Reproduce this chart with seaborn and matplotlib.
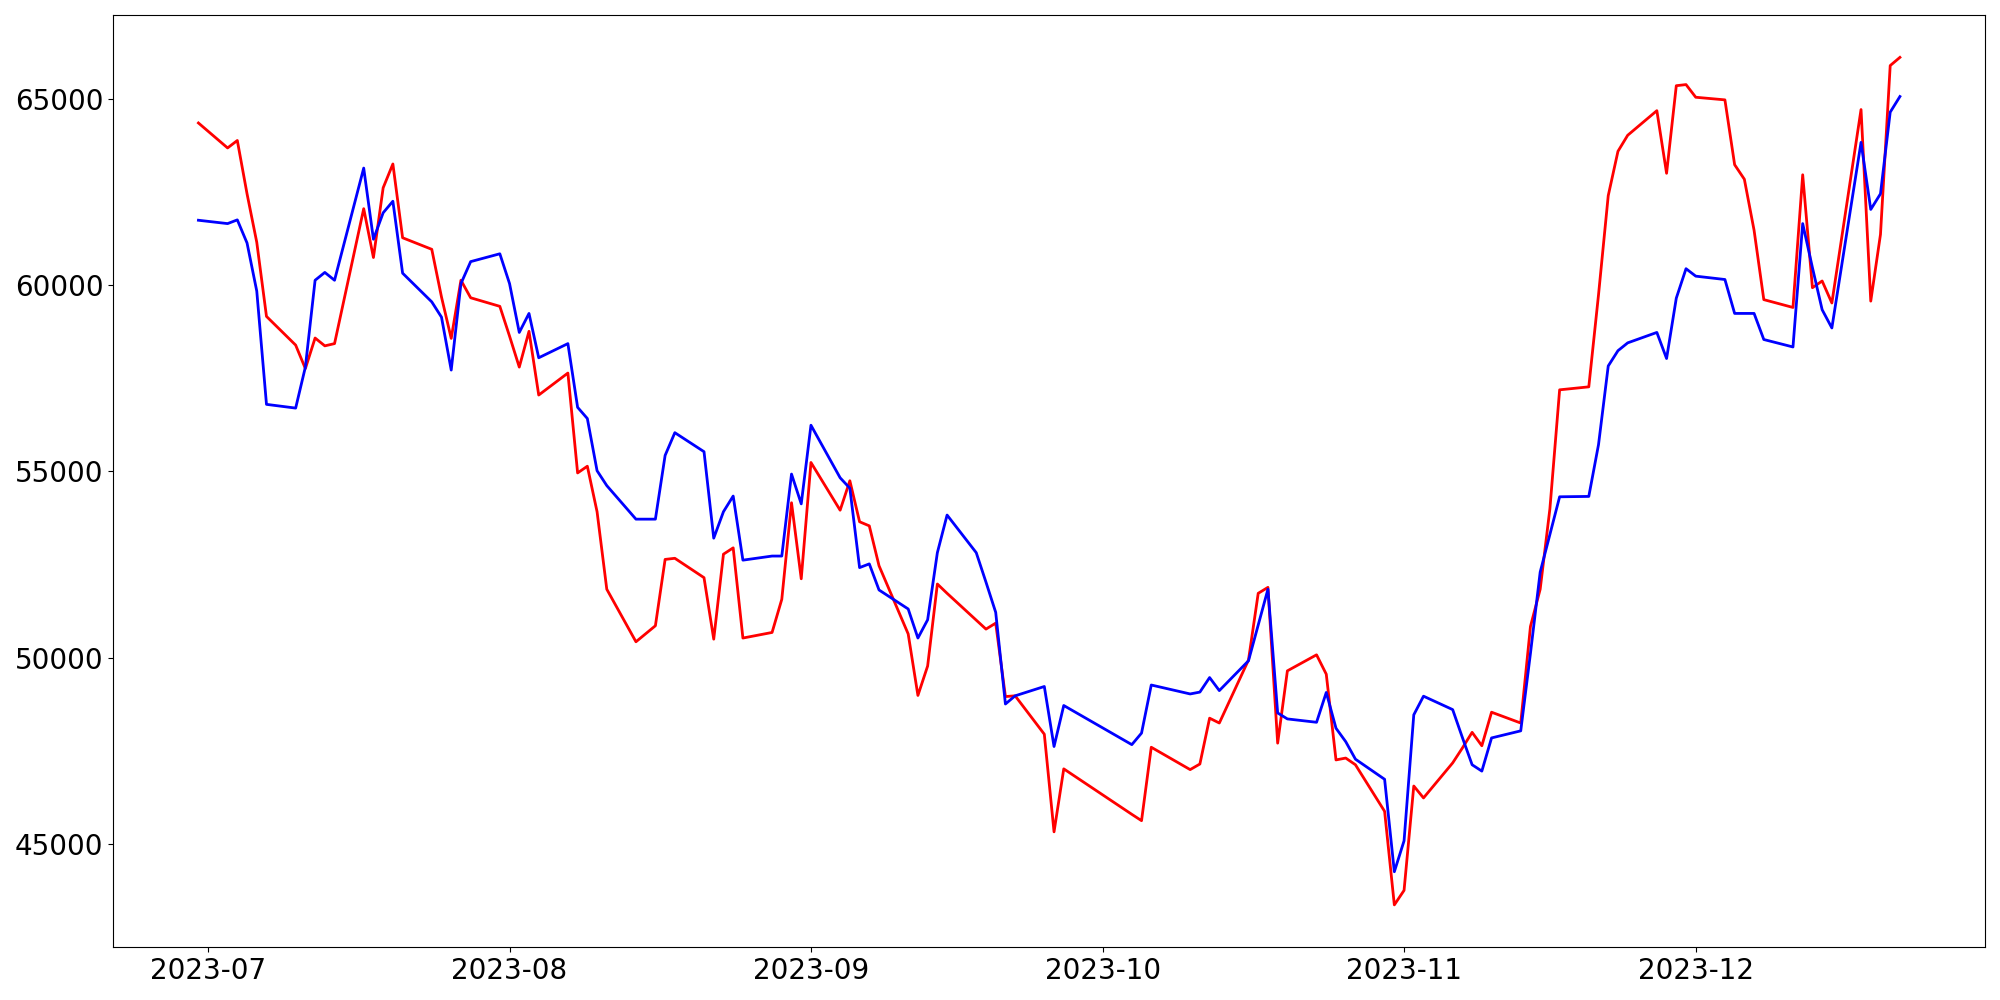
import pandas as pd
import matplotlib
matplotlib.use("Agg")
import matplotlib.pyplot as plt
import seaborn as sns

# trading days (KRX calendar, holidays removed)
holidays = ['2023-08-15', '2023-09-28', '2023-09-29', '2023-10-02', '2023-10-03', '2023-10-09']
dates = pd.bdate_range('2023-06-30', '2023-12-22', freq='C', holidays=holidays)

# red series, grouped by month
red_values = [
    64350,
    63680, 63880, 62450, 61150, 59160, 58390, 57760, 58580, 58370, 58430,
    62050, 60740, 62610, 63250, 61270, 60960, 59680, 58570, 60130, 59660, 59430,
    # aug
    58630, 57800, 58760, 57050, 57640, 54960, 55140, 53920, 51840, 50430,
    50860, 52640, 52670, 52150, 50500, 52780, 52950, 50530, 50680, 51570, 54160, 52120,
    # sep
    55240, 53960, 54750, 53650, 53540, 52470, 50640, 48990, 49780, 51980,
    51730, 51010, 50770, 50930, 48960, 48980, 47950, 45330, 47020,
    # oct
    45800, 45630, 47600, 47000, 47150, 48380, 48250, 49940, 51730, 51890,
    47710, 49650, 50080, 49560, 47260, 47310, 47130, 45880, 43370,
    # nov
    43760, 46560, 46240, 47180, 47580, 48000, 47640, 48540, 48250, 50840, 51840,
    54000, 57190, 57270, 59740, 62400, 63590, 64020, 64680, 63000, 65350, 65380,
    # dec
    65040, 64970, 63230, 62840, 61470, 59610, 59400, 62960, 59930, 60110, 59520,
    64710, 59570, 61360, 65890, 66110,
]

# blue series
blue_values = [
    61740,
    61650, 61750, 61130, 59840, 56800, 56700, 57800, 60130, 60340, 60130,
    63140, 61230, 61940, 62250, 60320, 59550, 59140, 57720, 60040, 60630, 60840,
    # aug
    60040, 58730, 59240, 58050, 58430, 56720, 56420, 55020, 54620, 53720,
    53720, 55430, 56040, 55530, 53210, 53920, 54340, 52620, 52730, 52730, 54930, 54130,
    # sep
    56240, 54830, 54550, 52420, 52520, 51820, 51310, 50530, 51020, 52820,
    53830, 52820, 52030, 51220, 48760, 48980, 49230, 47620, 48720,
    # oct
    47670, 47980, 49270, 49030, 49080, 49470, 49120, 49920, 50880, 51840,
    48520, 48360, 48270, 49070, 48110, 47750, 47280, 46740, 44260,
    # nov
    45090, 48470, 48970, 48610, 47860, 47130, 46960, 47850, 48040, 50120, 52300,
    53310, 54320, 54330, 55720, 57830, 58240, 58450, 58730, 58030, 59650, 60440,
    # dec
    60240, 60150, 59240, 59240, 59240, 58540, 58340, 61650, 60470, 59340, 58850,
    63830, 62030, 62450, 64640, 65060,
]

df = pd.DataFrame({'date': dates, 'red': red_values, 'blue': blue_values})

fig, ax = plt.subplots(figsize=(20, 10))
sns.lineplot(data=df, x='date', y='red', color='red', linewidth=2, ax=ax)
sns.lineplot(data=df, x='date', y='blue', color='blue', linewidth=2, ax=ax)
ax.set_xlabel('')
ax.set_ylabel('')
ax.tick_params(axis='both', labelsize=20)
plt.tight_layout()
plt.savefig('out.png', dpi=100)
